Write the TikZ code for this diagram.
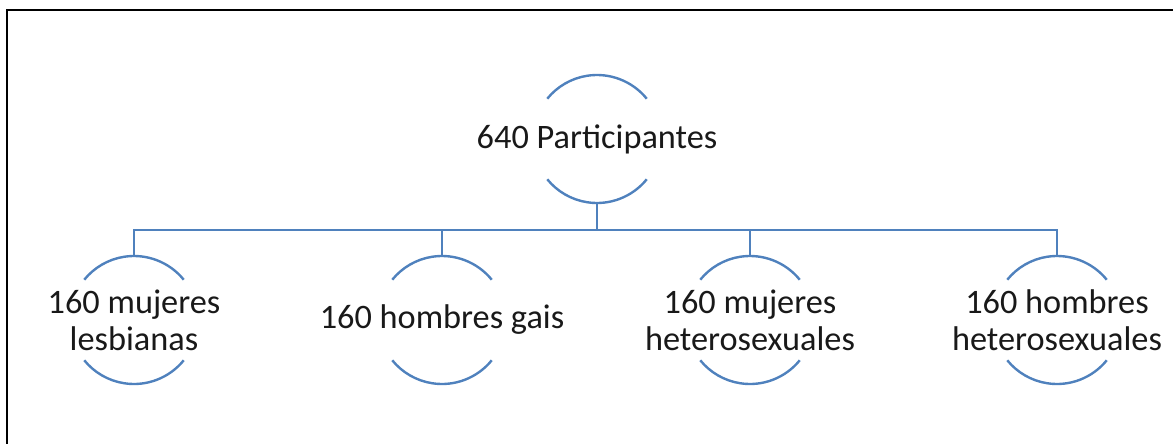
\documentclass[tikz,border=0pt]{standalone}
\usepackage{fontspec}
\setmainfont{Carlito}
\definecolor{arcblue}{HTML}{4F81BD}
\begin{document}
\begin{tikzpicture}[x=1pt,y=-1pt,
  arcline/.style={draw=arcblue,line width=2.4pt},
  conn/.style={draw=arcblue,line width=2.2pt},
  lbl/.style={font=\fontsize{34.3}{37}\selectfont,align=center,text=black!90,inner sep=0pt}]
\useasboundingbox (0,0) rectangle (1173,444);
\draw[line width=2pt] (7,444) -- (7,10.5) -- (1173,10.5);
% circles
\foreach \n/\cx/\cy in {root/597/139,c1/134/320,c2/442/320,c3/750/320,c4/1057/320}{
  \coordinate (\n) at (\cx,\cy);
  \coordinate (\n-top) at (\cx,\cy-64);
  \coordinate (\n-bot) at (\cx,\cy+64);
  \draw[arcline] (\n) ++(-39:64) arc[start angle=-39,end angle=-141,radius=64];
  \draw[arcline] (\n) ++(39:64) arc[start angle=39,end angle=141,radius=64];
}
\node[lbl] (troot) at (root) {640 Participantes};
\node[lbl] (t1) at (c1) {160 mujeres\\lesbianas};
\node[lbl] (t2) at (c2) {160 hombres gais};
\node[lbl] (t3) at (c3) {160 mujeres\\heterosexuales};
\node[lbl] (t4) at (c4) {160 hombres\\heterosexuales};
\coordinate (bus) at (597,230);
\draw[conn] (root-bot) -- (bus);
\draw[conn] (c1-top) |- (bus) -| (c4-top);
\draw[conn] (c2-top) -- (c2-top |- bus);
\draw[conn] (c3-top) -- (c3-top |- bus);
\end{tikzpicture}
\end{document}
